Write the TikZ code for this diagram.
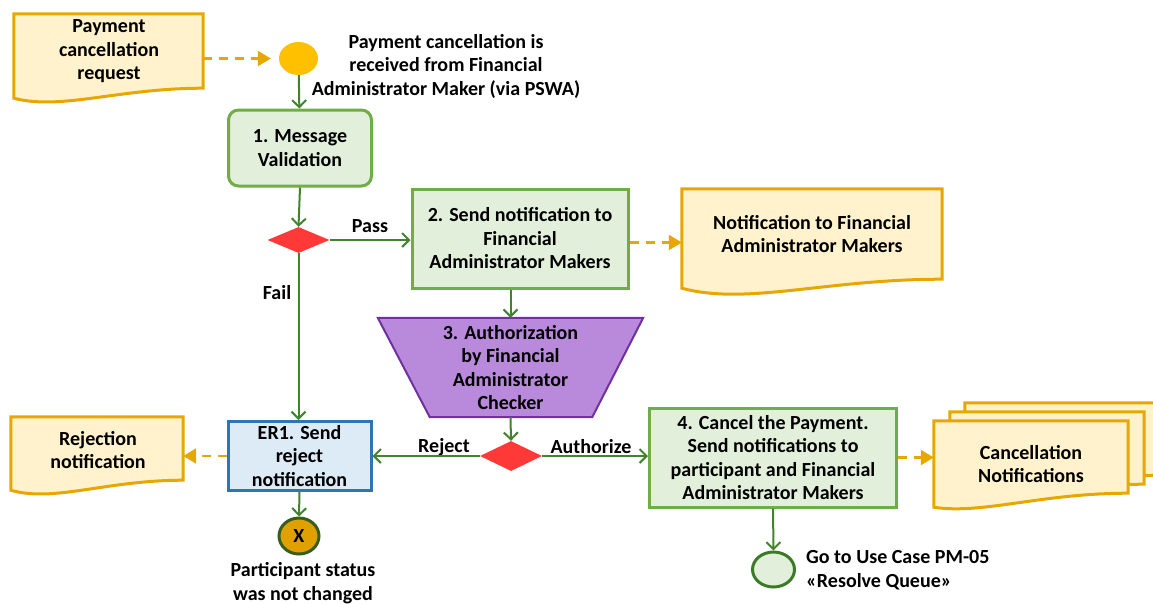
\documentclass[tikz,border=0pt]{standalone}
\usepackage{fontspec}
\setmainfont{Carlito}
\usetikzlibrary{arrows.meta,shapes.geometric,calc,backgrounds}
\definecolor{flowgreen}{RGB}{67,130,46}
\definecolor{boxgreen}{RGB}{112,173,71}
\definecolor{boxfill}{RGB}{226,239,218}
\definecolor{docfill}{RGB}{255,242,204}
\definecolor{docborder}{RGB}{229,167,0}
\definecolor{startyellow}{RGB}{255,192,0}
\definecolor{decred}{RGB}{255,56,56}
\definecolor{trapfill}{RGB}{185,138,220}
\definecolor{trapborder}{RGB}{112,48,160}
\definecolor{bluefill}{RGB}{221,235,247}
\definecolor{blueborder}{RGB}{46,117,182}
\definecolor{endorange}{RGB}{224,160,0}
\definecolor{enddark}{RGB}{56,94,30}
\definecolor{fingreen}{RGB}{61,122,40}
% #1 node, #2 rise of right corner, #3 dip, #4 dx, #5 dy (picture units)
\newcommand{\docshape}[5]{%
  \path[docline] let \p1=($(#1.south west)+(#4,#5)$), \p2=($(#1.north east)+(#4,#5)$) in
  (\x1,\y2) -- (\x2,\y2) -- (\x2,{\y1+#2pt})
  .. controls ({\x1+0.55*(\x2-\x1)},{\y1+#2pt}) and ({\x1+0.25*(\x2-\x1)},{\y1-2.5*#3pt}) .. (\x1,\y1) -- cycle;}
\begin{document}
\begin{tikzpicture}[x=1pt,y=-1pt,
  font=\fontsize{20}{23.5}\selectfont\bfseries,
  flow/.style={draw=flowgreen, line width=2pt, -{Straight Barb[length=7pt,width=14pt,line width=2pt]}},
  dataflow/.style={draw=docborder, line width=2.2pt, dash pattern=on 9pt off 7pt, -{Triangle[length=13pt,width=15pt]}},
  greenbox/.style={draw=boxgreen, fill=boxfill, line width=3pt, align=center, inner sep=0pt},
  bluebox/.style={draw=blueborder, fill=bluefill, line width=3pt, align=center, inner sep=0pt},
  txt/.style={align=center, inner sep=0pt},
  frame/.style={inner sep=0pt, draw=none, align=center},
  docline/.style={draw=docborder, fill=docfill, line width=3pt},
  trapstyle/.style={draw=trapborder, fill=trapfill, line width=2pt},
  dec/.style={diamond, fill=decred, inner sep=0pt}
]
\useasboundingbox (0,0) rectangle (1153,603);

% documents and start
\node[frame, minimum width=189, minimum height=84] (req) at (108.5,56) {};
\node[txt] (reqtxt) at (109,51.5) {Payment\\cancellation\\request};
\node[ellipse, fill=startyellow, minimum width=39, minimum height=33, inner sep=0pt] (start) at (298.5,58.5) {};
\node[txt] (starttxt) at (446,66) {Payment cancellation is\\received from Financial\\Administrator Maker (via PSWA)};

\node[greenbox, rounded corners=10pt, minimum width=143, minimum height=76] (b1) at (300,148) {1. Message\\Validation};
\node[dec, minimum width=62, minimum height=26] (d1) at (298.5,240) {};

\node[greenbox, minimum width=216, minimum height=99] (b2) at (520,238.5) {2. Send notification to\\Financial\\Administrator Makers};
\node[frame, minimum width=260, minimum height=99] (notif) at (812,238.5) {};
\node[txt] (notiftxt) at (812,234) {Notification to Financial\\Administrator Makers};

\node[frame, minimum width=265, minimum height=99] (trap) at (510.5,367.5) {3. Authorization\\by Financial\\Administrator\\Checker};
\node[dec, minimum width=62, minimum height=30] (d2) at (511,456) {};

\node[bluebox, minimum width=143, minimum height=69] (er1) at (299.5,456) {ER1. Send\\reject\\notification};
\node[frame, minimum width=172, minimum height=73] (rej) at (97,453.5) {};
\node[txt] (rejtxt) at (98,450) {Rejection\\notification};

\node[ellipse, draw=enddark, fill=endorange, line width=3pt, minimum width=40, minimum height=36, inner sep=0pt] (endx) at (299,536) {X};
\node[txt] (endtxt) at (303,583) {Participant status\\was not changed};

\node[greenbox, minimum width=247, minimum height=99] (b4) at (773,457.5) {4. Cancel the Payment.\\Send notifications to\\participant and Financial\\Administrator Makers};
\node[frame, minimum width=194, minimum height=86] (canc) at (1031,464) {};
\node[txt] (canctxt) at (1031,464) {Cancellation\\Notifications};

\node[ellipse, draw=fingreen, fill=boxfill, line width=3pt, minimum width=42, minimum height=35, inner sep=0pt] (fin) at (773.5,569.5) {};
\node[txt, align=left, anchor=west] (fintxt) at (806,570) {Go to Use Case PM-05\\«Resolve Queue»};

% labels
\node[txt] (lpass) at (370,226) {Pass};
\node[txt] (lfail) at (277,293) {Fail};
\node[txt] (lrej) at (444,447) {Reject};
\node[txt] (lauth) at (591,447) {Authorize};

% background shapes
\begin{scope}[on background layer]
  \docshape{req}{10}{5}{0}{0}
  \docshape{notif}{9}{7}{0}{0}
  \docshape{rej}{10}{5}{0}{0}
  \docshape{canc}{14}{3}{31}{-18}
  \docshape{canc}{14}{3}{16}{-9}
  \docshape{canc}{14}{3}{0}{0}
  \path[trapstyle] (trap.north west) -- (trap.north east) -- ($(trap.south east)+(-51,0)$) -- ($(trap.south west)+(52,0)$) -- cycle;
\end{scope}

% connectors
\draw[dataflow, shorten >=8pt] (req.east |- start) -- (start.west);
\draw[flow] (start) -- (b1);
\draw[flow] (b1.south) -- (d1.north);
\draw[flow] (d1.east) -- (d1.east -| b2.west);
\draw[flow] (d1.south) -- (d1.south |- er1.north);
\draw[dataflow] ($(b2.east)+(0,4)$) -- ($(b2.east -| notif.west)+(0,4)$);
\draw[flow] (b2.south -| trap.north) -- (trap.north);
\draw[flow] (trap.south) -- (d2.north);
\draw[flow] (d2.west) -- (d2.west -| er1.east);
\draw[flow] (d2.east) -- (d2.east -| b4.west);
\draw[dataflow] (er1.west) -- (er1.west -| rej.east);
\draw[flow] (er1.south) -- (endx.north);
\draw[dataflow] (b4.east) -- (b4.east -| canc.west);
\draw[flow] (b4.south) -- (fin.north);
\end{tikzpicture}
\end{document}
